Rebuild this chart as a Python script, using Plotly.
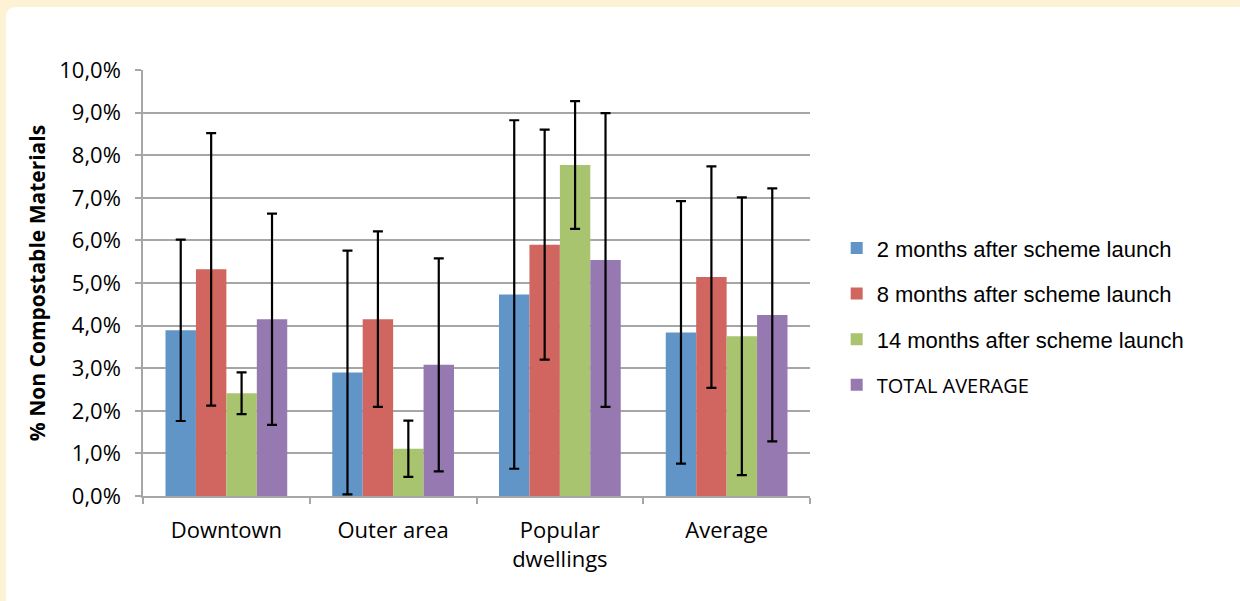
import plotly.graph_objects as go

# categories on the x axis
areas = ["Downtown", "Outer area", "Popular<br>dwellings", "Average"]

# % non compostable materials
two_months = [3.89, 2.90, 4.73, 3.84]
eight_months = [5.32, 4.15, 5.90, 5.14]
fourteen_months = [2.41, 1.11, 7.77, 3.75]
total_average = [4.15, 3.08, 5.54, 4.25]

# error bar half-lengths (symmetric)
two_err = [2.13, 2.86, 4.09, 3.08]
eight_err = [3.20, 2.06, 2.70, 2.60]
fourteen_err = [0.49, 0.66, 1.50, 3.26]
total_err = [2.48, 2.50, 3.45, 2.97]

series = [
    ("2 months after scheme launch", two_months, two_err, "#6195C8"),
    ("8 months after scheme launch", eight_months, eight_err, "#D0665F"),
    ("14 months after scheme launch", fourteen_months, fourteen_err, "#A9C46F"),
    ("<span style='font-family:Open Sans;font-size:20px'>TOTAL AVERAGE</span>",
     total_average, total_err, "#9679B0"),
]

fig = go.Figure()
for i, (name, vals, errs, col) in enumerate(series):
    fig.add_trace(go.Bar(
        x=areas, y=vals, name=name, legendgroup=str(i),
        marker=dict(color=col, line=dict(width=0)),
        error_y=dict(type="data", array=errs, visible=True,
                     color="black", thickness=2.2, width=5),
    ))

# plot area in pixels: x 143..810, y 70..496
W, H = 1240, 601
L, R, T, B = 143, 430, 70, 105
pw, ph = W - L - R, H - T - B

def px(x):
    return (x - L) / pw

def py(y):
    return (H - B - y) / ph

# white rounded panel on the cream page
x0, yt = px(6), py(7)
x1, yb = px(1260), py(620)
dx, dy = 10 / pw, 10 / ph
panel = (f"M{x0},{yb} L{x0},{yt - dy} Q{x0},{yt} {x0 + dx},{yt} "
         f"L{x1},{yt} L{x1},{yb} Z")

fig.update_layout(
    width=W, height=H,
    margin=dict(l=L, r=R, t=T, b=B),
    paper_bgcolor="#FEF2D4",
    plot_bgcolor="white",
    separators=",.",
    barmode="group",
    bargap=0.27,
    bargroupgap=0,
    font=dict(family="Open Sans", size=22, color="black"),
    shapes=[dict(type="path", path=panel, xref="paper", yref="paper",
                 fillcolor="white", line=dict(width=0), layer="below")],
    legend=dict(x=1.04, y=0.421, xanchor="left", yanchor="middle",
                font=dict(family="Liberation Sans", size=22),
                tracegroupgap=14, bgcolor="rgba(0,0,0,0)"),
    showlegend=True,
)

fig.update_yaxes(
    range=[0, 10], dtick=1, tickformat=".1f", ticksuffix="%",
    showgrid=True, gridcolor="#A6A6A6", gridwidth=1.5,
    showline=True, linecolor="#A6A6A6", linewidth=1.5,
    ticks="outside", ticklen=6, tickcolor="#A6A6A6", tickwidth=1.5,
    ticklabelstandoff=10,
    zeroline=False,
    title=dict(text="<b>% Non Compostable Materials</b>",
               font=dict(family="Open Sans", size=21), standoff=8),
)
fig.update_xaxes(
    showline=True, linecolor="#A6A6A6", linewidth=1.5,
    ticks="outside", ticklen=6, tickcolor="#A6A6A6", tickwidth=1.5,
    tickson="boundaries", ticklabelstandoff=14,
    tickfont=dict(family="Open Sans", size=22),
)

# drop the default 8px body margin so the figure sits at the page corner
fig.write_html("out.html", config={"displayModeBar": False},
               post_script="document.body.style.margin='0px';")
